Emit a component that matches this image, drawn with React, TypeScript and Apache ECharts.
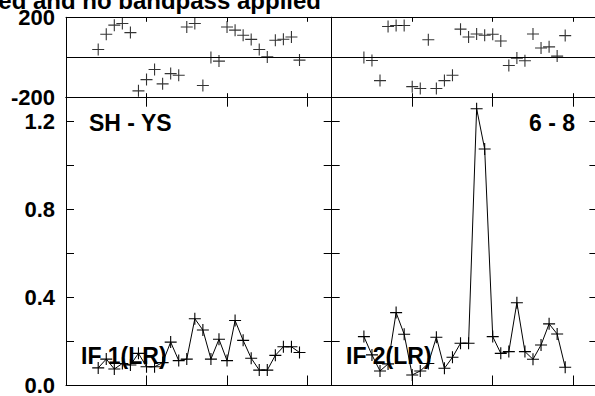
import React, { useEffect, useRef } from "react";
import * as echarts from "echarts";

// x positions of the samples (axis units, ticks every 1)
const X_POS = [0.4, 0.5, 0.6, 0.7, 0.8, 0.9, 1.0, 1.1, 1.2, 1.3, 1.4, 1.5, 1.6, 1.7, 1.8, 1.9, 2.0, 2.1, 2.2, 2.3, 2.4, 2.5, 2.6, 2.7, 2.8, 2.9];

// Left column: SH - YS, IF 1(LR)
const LEFT_PHASE = [40, 116, 161, 169, 124, -166, -110, -60, -131, -80, -88, 152, 169, -139, 0, -18, 152, 136, 111, 90, 40, 3, 86, 91, 102, -13];
const LEFT_AMP = [0.08, 0.12, 0.075, 0.1, 0.093, 0.146, 0.085, 0.085, 0.104, 0.197, 0.113, 0.12, 0.303, 0.252, 0.12, 0.21, 0.113, 0.295, 0.205, 0.124, 0.07, 0.07, 0.137, 0.176, 0.176, 0.15];

// Right column: 6 - 8, IF 2(LR)
const RIGHT_PHASE = [0, -15, -115, 154, 159, 159, -145, -154, 88, -154, -115, -88, 141, 102, 117, 111, 116, 82, -40, -3, -16, 117, 47, 53, 7, 109];
const RIGHT_AMP = [0.222, 0.139, 0.066, 0.098, 0.331, 0.233, 0.048, 0.066, 0.1, 0.219, 0.078, 0.128, 0.192, 0.192, 1.257, 1.074, 0.222, 0.146, 0.154, 0.376, 0.154, 0.119, 0.184, 0.28, 0.234, 0.083];

const TITLE = "ed and no bandpass applied";
const BASELINE_LABELS = ["SH - YS", "6 - 8"];
const IF_LABELS = ["IF 1(LR)", "IF 2(LR)"];

const FONT = "'Liberation Sans', Arial, Helvetica, sans-serif";
const CROSS = "path://M0,6L12,6M6,0L6,12";

export default function App() {
  const ref = useRef<HTMLDivElement>(null);

  useEffect(() => {
    if (!ref.current) return;
    const chart = echarts.init(ref.current, undefined, { renderer: "svg" });

    const L0 = 66;
    const W = 265.7;
    const L1 = L0 + W;
    const TOP = 17.3;
    const MID = 97.7;
    const BOT = 385.5;

    const grids = [
      { left: L0, top: TOP, width: W, height: MID - TOP },
      { left: L0, top: MID, width: W, height: BOT - MID },
      { left: L1, top: TOP, width: W, height: MID - TOP },
      { left: L1, top: MID, width: W, height: BOT - MID },
    ].map((g) => ({ ...g, containLabel: false, outerBoundsMode: "none", show: false }));

    const line = { color: "#000", width: 1 };

    const xAxes: any[] = [];
    grids.forEach((_, gi) => {
      const isTop = gi % 2 === 0;
      xAxes.push({
        type: "value", gridIndex: gi, position: "bottom", min: 0, max: 3.3, interval: 1,
        axisLine: { show: true, onZero: false, lineStyle: line },
        axisTick: { show: true, inside: true, length: isTop ? 4.5 : 10, lineStyle: line },
        axisLabel: { show: false }, splitLine: { show: false },
      });
      xAxes.push({
        type: "value", gridIndex: gi, position: "top", min: 0, max: 3.3, interval: 1,
        axisLine: { show: true, onZero: false, lineStyle: line },
        axisTick: { show: true, inside: true, length: isTop ? 4.5 : 9, lineStyle: line },
        axisLabel: { show: false }, splitLine: { show: false },
      });
    });

    const labelStyle = {
      color: "#000", fontSize: 22, fontWeight: "bold" as const, fontFamily: FONT, margin: 11,
    };

    const yAxes: any[] = [];
    grids.forEach((_, gi) => {
      const isTop = gi % 2 === 0;
      const isLeftCol = gi < 2;
      const base = isTop
        ? { min: -200, max: 200, interval: 200 }
        : { min: 0, max: 1.307, interval: 0.2 };
      const fmt = isTop
        ? (v: number) => (v === 0 ? "" : String(v))
        : (v: number) => {
            const k = Math.round(v * 10);
            return Math.abs(v * 10 - k) < 1e-6 && k % 4 === 0 ? v.toFixed(1) : "";
          };
      ["left", "right"].forEach((pos) => {
        yAxes.push({
          type: "value", gridIndex: gi, position: pos, ...base,
          axisLine: { show: true, onZero: false, lineStyle: line },
          axisTick: { show: true, inside: true, length: isTop ? 6 : 8, lineStyle: line },
          axisLabel: { show: isLeftCol && pos === "left", formatter: fmt, ...labelStyle },
          splitLine: { show: isTop && pos === "left", lineStyle: line },
        });
      });
    });

    const scatterSeries = (gi: number, vals: number[]) => ({
      type: "scatter",
      xAxisIndex: gi * 2,
      yAxisIndex: gi * 2,
      data: X_POS.map((x, i) => [x, vals[i]]),
      symbol: CROSS,
      symbolSize: 12,
      itemStyle: { color: "rgba(0,0,0,0)", borderColor: "#000", borderWidth: 1.1 },
      silent: true,
    });

    const lineSeries = (gi: number, vals: number[]) => ({
      type: "line",
      xAxisIndex: gi * 2,
      yAxisIndex: gi * 2,
      data: X_POS.map((x, i) => [x, vals[i]]),
      symbol: CROSS,
      symbolSize: 12,
      showSymbol: true,
      showAllSymbol: true,
      lineStyle: { color: "#000", width: 1 },
      itemStyle: { color: "rgba(0,0,0,0)", borderColor: "#000", borderWidth: 1.1 },
      silent: true,
    });

    const txt = (text: string, x: number, y: number, align: string, size = 23) => ({
      type: "text",
      x, y, z: 100,
      style: {
        text, fill: "#000", font: `bold ${size}px ${FONT}`,
        align, verticalAlign: "middle",
      },
    });

    chart.setOption({
      animation: false,
      backgroundColor: "#fff",
      grid: grids,
      xAxis: xAxes,
      yAxis: yAxes,
      series: [
        scatterSeries(0, LEFT_PHASE),
        lineSeries(1, LEFT_AMP),
        scatterSeries(2, RIGHT_PHASE),
        lineSeries(3, RIGHT_AMP),
      ],
      graphic: [
        txt(TITLE, 321, 0.5, "right", 24),
        txt(BASELINE_LABELS[0], 89, 123.3, "left"),
        txt(BASELINE_LABELS[1], 575, 123.3, "right"),
        txt(IF_LABELS[0], 81, 356, "left"),
        txt(IF_LABELS[1], 346, 356, "left"),
      ],
    });

    return () => chart.dispose();
  }, []);

  return (
    <div
      ref={ref}
      style={{ position: "fixed", left: 0, top: 0, width: 595, height: 396, background: "#fff" }}
    />
  );
}
